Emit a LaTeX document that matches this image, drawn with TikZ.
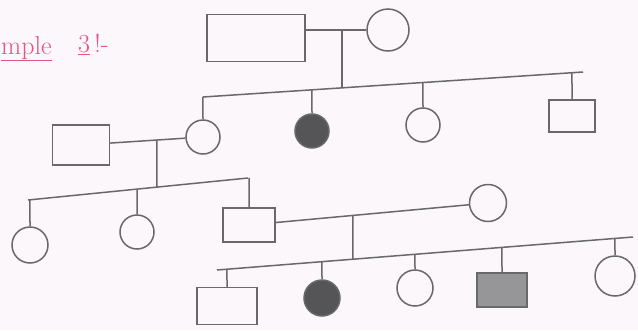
\documentclass[tikz,border=0pt]{standalone}
\usetikzlibrary{calc}
\definecolor{pdpencil}{RGB}{105,105,108}
\definecolor{pdpaper}{RGB}{251,247,251}
\definecolor{pdink}{RGB}{226,86,128}
\definecolor{pdaff}{RGB}{85,85,88}
\definecolor{pdaffm}{RGB}{150,150,152}
\tikzset{
  pdmale/.style 2 args={
    draw=pdpencil, line width=1.5pt, rectangle, inner sep=0pt,
    minimum width=#1, minimum height=#2
  },
  pdfemale/.style={
    draw=pdpencil, line width=1.5pt, circle, inner sep=0pt, minimum size=#1
  },
  pdline/.style={draw=pdpencil, line width=1.5pt},
  pdtitle/.style={text=pdink, font=\fontsize{26}{30}\selectfont, inner sep=0pt},
}

\begin{document}
\begin{tikzpicture}[x=1pt, y=-1pt]
  \fill[pdpaper] (0,0) rectangle (638,330);
  \useasboundingbox (0,0) rectangle (638,330);

  \node[pdtitle, anchor=base west] (ttl) at (1,54) {\underline{mple}};
  \node[pdtitle, anchor=base west] (num) at (78,52) {\underline{3}\,!-};

  % generation I
  \node[pdmale={98}{47}] (gf) at (256,38) {};
  \node[pdfemale=42] (gm) at (388,30) {};
  \draw[pdline] (gf.east |- gm) -- (gm.west);
  \coordinate (m1) at ($(gf.east |- gm)!0.6!(gm.west)$);
  \coordinate (s1a) at (203,97);
  \coordinate (s1b) at (583,72);
  \draw[pdline] (m1) -- (intersection of m1--{$(m1)+(0,10)$} and s1a--s1b);
  \draw[pdline] (s1a) -- (s1b);

  % generation II
  \node[pdfemale=34] (c1) at (203,137) {};
  \node[pdfemale=34, fill=pdaff] (c2) at (312,131) {};
  \node[pdfemale=34] (c3) at (423,125) {};
  \node[pdmale={46}{32}] (c4) at (572,116) {};
  \foreach \c in {c1,c2,c3,c4}
    \draw[pdline] (\c.north) -- (intersection of \c.north--\c.south and s1a--s1b);

  \node[pdmale={57}{40}] (sp1) at (81,145) {};
  \draw[pdline] (sp1) -- (c1);
  \coordinate (m2) at ($(sp1.east)!0.62!(c1.west)$);
  \coordinate (s2a) at (28,200);
  \coordinate (s2b) at (248,178);
  \draw[pdline] (m2) -- (intersection of m2--{$(m2)+(0,10)$} and s2a--s2b);
  \draw[pdline] (s2a) -- (s2b);

  % generation III
  \node[pdfemale=36] (d1) at (30,245) {};
  \node[pdfemale=34] (d2) at (137,232) {};
  \node[pdmale={52}{34}] (d3) at (249,225) {};
  \foreach \c in {d1,d2,d3}
    \draw[pdline] (\c.north) -- (intersection of \c.north--\c.south and s2a--s2b);

  \node[pdfemale=37] (sp2) at (488,203) {};
  \draw[pdline] (d3) -- (sp2);
  \coordinate (m3) at ($(d3)!0.435!(sp2)$);
  \coordinate (s3a) at (217,270);
  \coordinate (s3b) at (633,237);
  \draw[pdline] (m3) -- (intersection of m3--{$(m3)+(0,10)$} and s3a--s3b);
  \draw[pdline] (s3a) -- (s3b);

  % generation IV
  \node[pdmale={60}{37}] (e1) at (227,306) {};
  \node[pdfemale=36, fill=pdaff] (e2) at (322,298) {};
  \node[pdfemale=36] (e3) at (415,288) {};
  \node[pdmale={50}{34}, fill=pdaffm] (e4) at (502,290) {};
  \node[pdfemale=40] (e5) at (615,276) {};
  \foreach \c in {e1,e2,e3,e4,e5}
    \draw[pdline] (\c.north) -- (intersection of \c.north--\c.south and s3a--s3b);
\end{tikzpicture}
\end{document}
